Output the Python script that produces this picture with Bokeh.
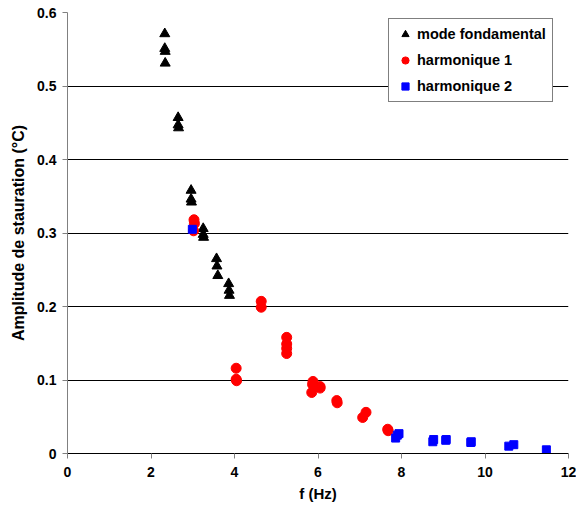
from bokeh.plotting import figure
from bokeh.models import Range1d, FixedTicker, Legend, LegendItem
from bokeh.embed import file_html
from bokeh.resources import INLINE

# mode fondamental
f0_x = [2.33, 2.33, 2.34, 2.34, 2.65, 2.65, 2.66, 2.96, 2.96, 2.97, 3.25, 3.25, 3.26,
        3.57, 3.58, 3.6, 3.86, 3.87, 3.88]
f0_y = [0.571, 0.551, 0.547, 0.531, 0.457, 0.447, 0.443, 0.358, 0.346, 0.342, 0.306, 0.298, 0.294,
        0.265, 0.255, 0.242, 0.231, 0.222, 0.215]
# harmonique 1
h1_x = [3.03, 3.04, 3.02, 4.04, 4.04, 4.05, 4.64, 4.64, 5.25, 5.25, 5.25, 5.25,
        5.88, 5.87, 5.85, 6.05, 6.05, 6.45, 6.46, 7.07, 7.15, 7.67, 7.68]
h1_y = [0.318, 0.313, 0.303, 0.116, 0.101, 0.099, 0.207, 0.199, 0.158, 0.149, 0.143, 0.136,
        0.098, 0.094, 0.083, 0.091, 0.089, 0.072, 0.069, 0.049, 0.056, 0.033, 0.031]
# harmonique 2
h2_x = [2.99, 7.86, 7.9, 7.94, 8.75, 8.77, 9.06, 9.07, 9.66, 9.67, 10.57, 10.69, 11.47]
h2_y = [0.305, 0.021, 0.025, 0.027, 0.016, 0.019, 0.018, 0.019, 0.015, 0.016, 0.010, 0.012, 0.005]

x_ticks = [0, 2, 4, 6, 8, 10, 12]
y_ticks = [0, 0.1, 0.2, 0.3, 0.4, 0.5, 0.6]
y_labels = ["0", "0.1", "0.2", "0.3", "0.4", "0.5", "0.6"]

FONT = "Liberation Sans"

p = figure(width=576, height=508, output_backend="svg", toolbar_location=None,
           x_range=Range1d(0, 12), y_range=Range1d(0, 0.6),
           min_border_left=67, min_border_right=8, min_border_top=12, min_border_bottom=55)
p.outline_line_color = None
p.background_fill_color = "white"
p.border_fill_color = "white"

p.xgrid.grid_line_color = None
p.ygrid.grid_line_color = "#000000"
p.ygrid.grid_line_width = 1

p.xaxis.ticker = FixedTicker(ticks=x_ticks)
p.yaxis.ticker = FixedTicker(ticks=y_ticks)
p.yaxis.major_label_overrides = {t: l for t, l in zip(y_ticks, y_labels)}
p.xaxis.major_label_overrides = {t: str(t) for t in x_ticks}

for ax in (p.xaxis[0], p.yaxis[0]):
    ax.minor_tick_line_color = None
    ax.major_tick_in = 0
    ax.major_tick_out = 5
    ax.major_label_text_font = FONT
    ax.major_label_text_font_style = "bold"
    ax.major_label_text_font_size = "14px"
    ax.major_label_text_color = "black"
    ax.axis_label_text_font = FONT
    ax.axis_label_text_font_style = "bold"
    ax.axis_label_text_color = "black"

p.xaxis.axis_label_text_font_size = "15px"
p.yaxis.axis_label_text_font_size = "16px"
p.xaxis.axis_line_color = "black"
p.xaxis.major_tick_line_color = "#808080"
p.yaxis.axis_line_color = "#808080"
p.yaxis.major_tick_line_color = "#808080"
p.xaxis.major_label_standoff = 8
p.yaxis.major_label_standoff = 6
p.xaxis.axis_label_standoff = 5
p.yaxis.axis_label_standoff = 7
p.xaxis.axis_label = "f (Hz)"
p.yaxis.axis_label = "Amplitude de stauration (°C)"

r0 = p.scatter(f0_x, f0_y, marker="triangle", size=10, fill_color="black", line_color="black")
r1 = p.scatter(h1_x, h1_y, marker="circle", size=10, fill_color="#FF0000", line_color="#FF0000")
r2 = p.scatter(h2_x, h2_y, marker="square", size=8, fill_color="#0000FF", line_color="#0000FF")

legend = Legend(items=[LegendItem(label="mode fondamental", renderers=[r0]),
                       LegendItem(label="harmonique 1", renderers=[r1]),
                       LegendItem(label="harmonique 2", renderers=[r2])],
                location=(321, 351))
legend.label_text_font = FONT
legend.label_text_font_style = "bold"
legend.label_text_font_size = "14.5px"
legend.label_text_color = "black"
legend.border_line_color = "black"
legend.border_line_width = 1
legend.background_fill_color = "white"
legend.background_fill_alpha = 1
legend.glyph_width = 20
legend.glyph_height = 18
legend.label_height = 18
legend.label_standoff = 2
legend.spacing = 8
legend.padding = 6
legend.margin = 0
p.add_layout(legend, "center")

open("out.html", "w").write(file_html(p, INLINE))
